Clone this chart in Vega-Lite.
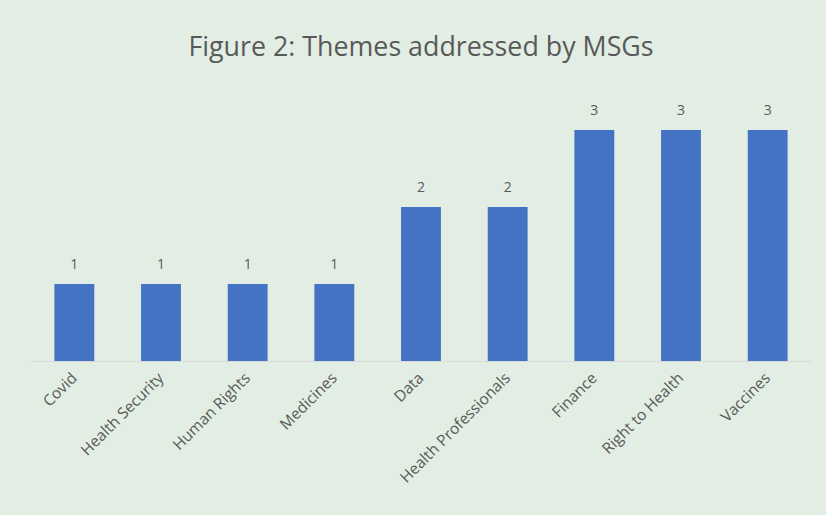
{
  "$schema": "https://vega.github.io/schema/vega-lite/v6.json",
  "autosize": {"type": "none"},
  "width": 780,
  "height": 269.5,
  "padding": {"left": 31, "top": 91.5, "right": 15, "bottom": 154},
  "background": "#E2EEE3",
  "config": {
    "view": {"stroke": null},
    "font": "Open Sans"
  },
  "title": {
    "text": "Figure 2: Themes addressed by MSGs",
    "fontSize": 26.8,
    "fontWeight": "normal",
    "color": "#595959",
    "anchor": "middle",
    "offset": 30,
    "font": "Open Sans"
  },
  "data": {
    "values": [
      {"theme": "Covid", "count": 1},
      {"theme": "Health Security", "count": 1},
      {"theme": "Human Rights", "count": 1},
      {"theme": "Medicines", "count": 1},
      {"theme": "Data", "count": 2},
      {"theme": "Health Professionals", "count": 2},
      {"theme": "Finance", "count": 3},
      {"theme": "Right to Health", "count": 3},
      {"theme": "Vaccines", "count": 3}
    ]
  },
  "encoding": {
    "x": {
      "field": "theme",
      "type": "nominal",
      "sort": null,
      "scale": {"paddingInner": 0.54, "paddingOuter": 0.27},
      "axis": {
        "title": null,
        "labelAngle": -45,
        "labelAlign": "right",
        "labelBaseline": "middle",
        "labelFontSize": 15.5,
        "labelColor": "#595959",
        "labelPadding": 14,
        "ticks": false,
        "domainColor": "#D9D9D9",
        "domainWidth": 1
      }
    },
    "y": {
      "field": "count",
      "type": "quantitative",
      "scale": {"domain": [0, 3.5], "nice": false},
      "axis": null
    }
  },
  "layer": [
    {"mark": {"type": "bar", "color": "#4472C4"}},
    {
      "mark": {"type": "text", "dy": -12, "baseline": "bottom", "fontSize": 14, "color": "#595959"},
      "encoding": {"text": {"field": "count", "type": "quantitative"}}
    }
  ]
}
